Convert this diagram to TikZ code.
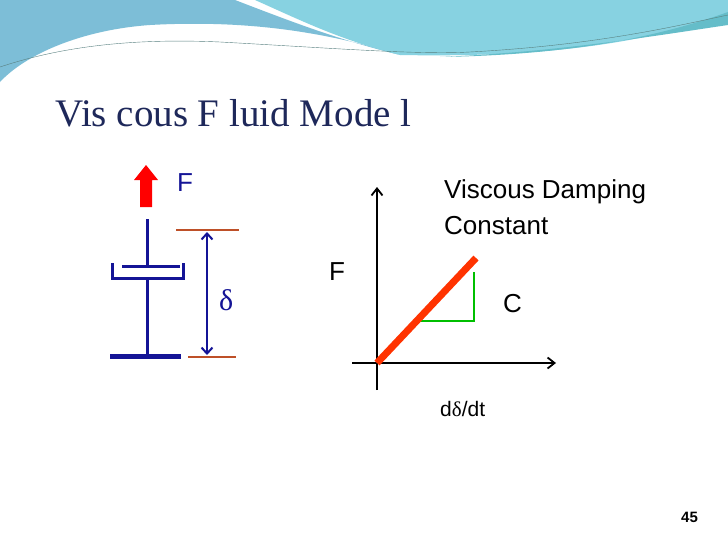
\documentclass[tikz,border=0pt]{standalone}
\usepackage{fontspec}
\usetikzlibrary{arrows.meta}
\setmainfont{Liberation Sans}
\newfontfamily\serifff{Liberation Serif}
\begin{document}
\begin{tikzpicture}[x=1pt,y=-1pt]
\definecolor{navy}{RGB}{20,20,150}
\definecolor{bandA}{RGB}{125,190,215}
\definecolor{bandB}{RGB}{135,210,225}
\definecolor{orng}{RGB}{190,80,40}
\definecolor{ttl}{RGB}{30,40,90}
\tikzset{lbl/.style={anchor=west,inner sep=0,font=\fontsize{26}{30}\selectfont}}
\useasboundingbox (0,0) rectangle (728,546);
\fill[white] (0,0) rectangle (728,546);
% banner
\fill[bandA] (0,0) -- (235,0) .. controls (300,25) and (340,40) .. (400,55) .. controls (320,30) and (240,20) .. (150,25) .. controls (80,30) and (25,55) .. (0,82) -- cycle;
\fill[bandB] (255,0) -- (728,0) -- (728,15) .. controls (650,40) and (560,58) .. (400,55) .. controls (340,40) and (300,20) .. (255,0) -- cycle;
\fill[bandB!75!teal] (728,12) .. controls (650,40) and (560,55) .. (440,57) .. controls (560,52) and (660,35) .. (728,25) -- cycle;
\draw[gray!70!teal,thin] (0,67) .. controls (60,47) and (130,38) .. (220,42) .. controls (330,48) and (420,55) .. (470,52) .. controls (600,45) and (680,25) .. (728,15);
% title
\node[anchor=west,inner sep=0,text=ttl,font=\serifff\fontsize{39}{44}\selectfont] (title) at (55,113) {Vis cous F luid Mode l};
% dashpot
\fill[red] (140,207) -- (140,180) -- (134,180) -- (146,165) -- (158,180) -- (152,180) -- (152,207) -- cycle;
\node[lbl,text=navy] (Fl) at (177,183) {F};
\draw[navy,line width=3pt] (147,219) -- (147,266);
\draw[navy,line width=3pt] (122,266) -- (180,266);
\draw[navy,line width=3pt] (112,263) -- (112,278) -- (183,278) -- (183,263);
\draw[navy,line width=3pt] (147,278) -- (147,356);
\draw[navy,line width=5pt] (110,356) -- (181,356);
\draw[orng,line width=1.6pt] (176,230) -- (239,230);
\draw[orng,line width=1.6pt] (188,357) -- (236,357);
\coordinate (dt) at (207,232); \coordinate (db) at (207,355);
\draw[navy,line width=2pt,<->,>={Straight Barb[length=6pt,width=11pt]}] (dt) -- (db);
\node[lbl,text=navy,font=\serifff\fontsize{30}{34}\selectfont] (del) at (219,300) {δ};
% graph
\coordinate (o) at (377,363);
\draw[line width=1.8pt,->,>={Straight Barb[length=7pt,width=11pt]}] (377,390) -- (377,187);
\draw[line width=1.8pt,->,>={Straight Barb[length=7pt,width=11pt]}] (352,363) -- (556,363);
\draw[green!75!black,line width=2.8pt] (420,321) -- (474,321) -- (474,272);
\draw[red!60!orange,line width=7pt] (o) -- (476,258);
\node[lbl] (F2) at (329,272) {F};
\node[lbl] (C) at (503,304) {C};
\node[lbl] (vdc1) at (444,192) {Viscous Damping};
\node[lbl] (vdc2) at (444,226) {Constant};
\node[lbl,font=\fontsize{21}{24}\selectfont] (ddt) at (440,409) {d{\serifff δ}/dt};
\node[lbl,font=\bfseries\fontsize{15}{18}\selectfont] (num) at (681,517) {45};
\end{tikzpicture}
\end{document}
